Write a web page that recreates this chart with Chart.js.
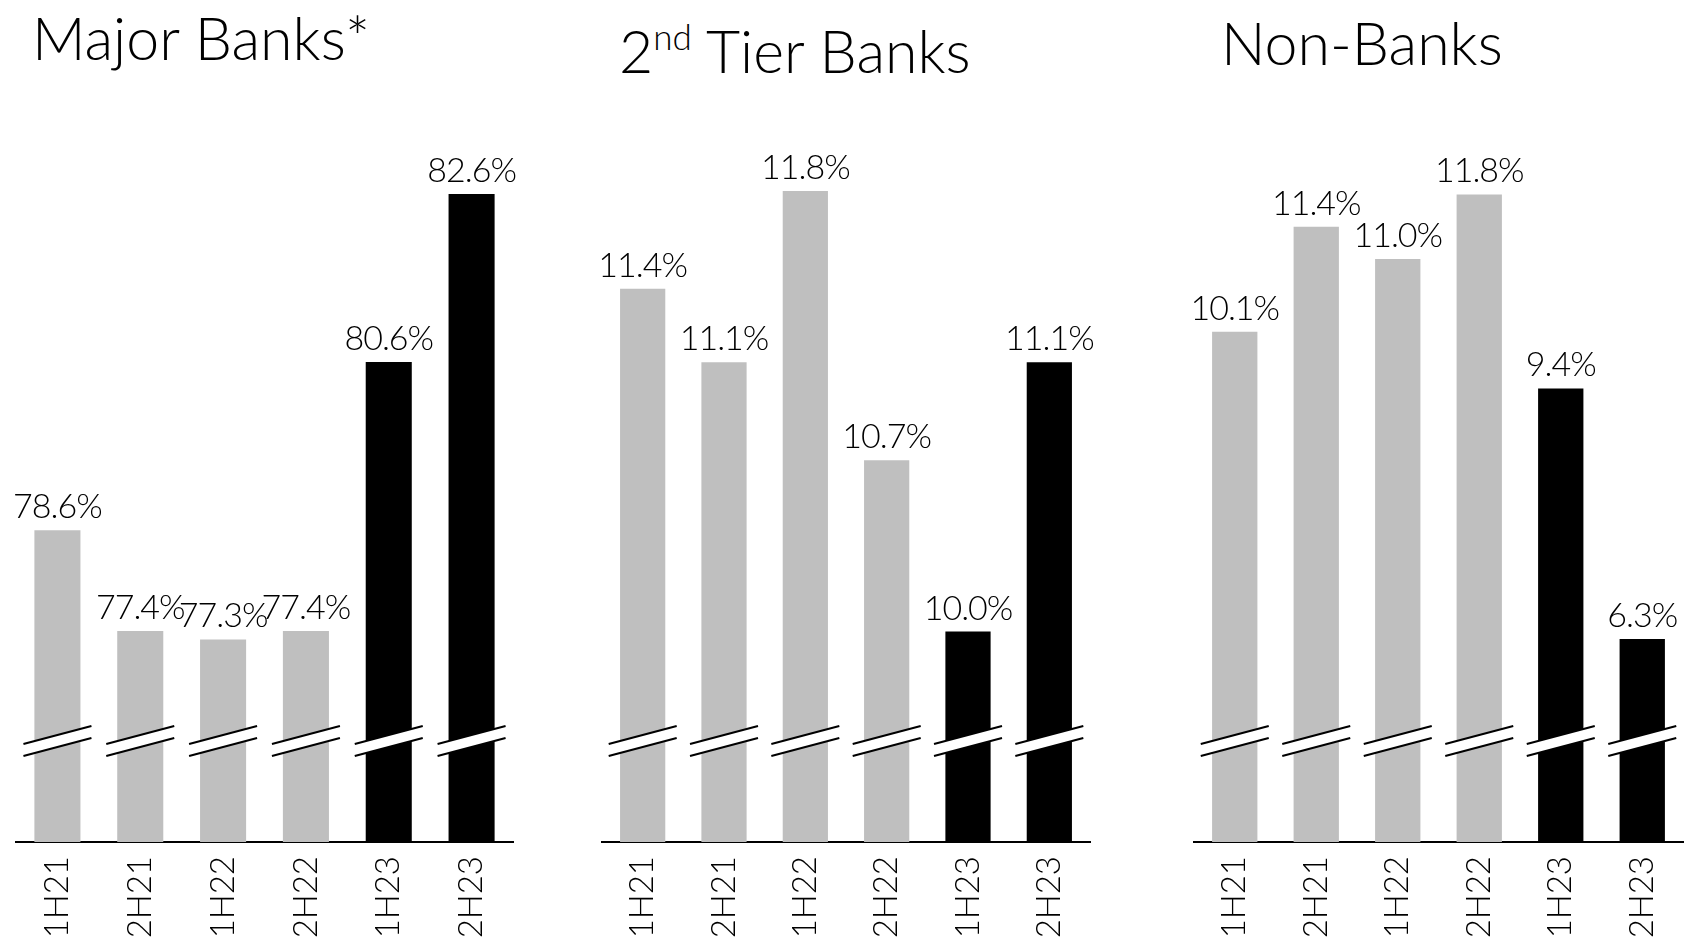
<!DOCTYPE html>
<html>
<head>
<meta charset="utf-8">
<script src="https://cdn.jsdelivr.net/npm/chart.js@4.4.1/dist/chart.umd.min.js"></script>
<style>
  html,body{margin:0;padding:0;background:#fff;overflow:hidden;}
  body{width:1687px;height:943px;position:relative;font-family:'Lato','Open Sans',sans-serif;font-weight:300;color:#000;}
  .ttl{position:absolute;font-size:59px;line-height:59px;white-space:nowrap;font-weight:300;}
  .ttl sup{font-size:35px;line-height:0;vertical-align:0;position:relative;top:-23px;}
  canvas{position:absolute;top:0;}
</style>
</head>
<body>
<div class="ttl" id="t-major" style="left:32px;top:8px;">Major Banks*</div>
<div class="ttl" id="t-tier" style="left:619px;top:21px;">2<sup>nd</sup> Tier Banks</div>
<div class="ttl" id="t-non" style="left:1221px;top:13px;">Non-Banks</div>

<canvas id="c-major" width="553" height="943" style="left:0px"></canvas>
<canvas id="c-tier" width="568" height="943" style="left:562px"></canvas>
<canvas id="c-non" width="573" height="943" style="left:1154px"></canvas>

<script>
/* ---------- Data ---------- */
const PERIODS     = ['1H21','2H21','1H22','2H22','1H23','2H23'];
const MAJOR_BANKS = [78.6, 77.4, 77.3, 77.4, 80.6, 82.6];
const TIER2_BANKS = [11.4, 11.1, 11.8, 10.7, 10.0, 11.1];
const NON_BANKS   = [10.1, 11.4, 11.0, 11.8, 9.4, 6.3];

// broken axis ranges (bars start from the break, not from zero)
const MAJOR_RANGE = [74.89, 83.48];
const TIER2_RANGE = [9.14, 12.09];
const NON_RANGE   = [3.79, 12.72];

/* ---------- Style ---------- */
const GREY  = '#bfbfbf';
const BLACK = '#000000';
const BAR_COLORS = [GREY, GREY, GREY, GREY, BLACK, BLACK];
const FONT = "'Lato','Open Sans',sans-serif";

function byId(id){ return document.getElementById(id); }

/* value labels on top of each bar */
const valueLabels = {
  id:'valueLabels',
  afterDatasetsDraw(chart){
    const ctx = chart.ctx;
    const ds = chart.data.datasets[0];
    const meta = chart.getDatasetMeta(0);
    ctx.save();
    ctx.font = '300 34px ' + FONT;
    ctx.fillStyle = '#000';
    ctx.textAlign = 'center';
    ctx.textBaseline = 'alphabetic';
    if ('letterSpacing' in ctx) ctx.letterSpacing = '-1px';
    meta.data.forEach((bar, i)=>{
      ctx.fillText(ds.data[i].toFixed(1) + '%', bar.x, bar.y - 12);
    });
    ctx.restore();
  }
};

/* axis-break marks across every bar */
const breakMarks = {
  id:'breakMarks',
  afterDatasetsDraw(chart){
    const ctx = chart.ctx;
    const bottom = chart.chartArea.bottom;
    const meta = chart.getDatasetMeta(0);
    const half = 34, rise = 9;
    const yA = bottom - 107, yB = bottom - 95;
    ctx.save();
    meta.data.forEach(bar=>{
      const x = bar.x;
      ctx.fillStyle = '#fff';
      ctx.beginPath();
      ctx.moveTo(x - half, yA + rise);
      ctx.lineTo(x + half, yA - rise);
      ctx.lineTo(x + half, yB - rise);
      ctx.lineTo(x - half, yB + rise);
      ctx.closePath();
      ctx.fill();
      ctx.strokeStyle = '#000';
      ctx.lineWidth = 2;
      [yA, yB].forEach(y=>{
        ctx.beginPath();
        ctx.moveTo(x - half, y + rise);
        ctx.lineTo(x + half, y - rise);
        ctx.stroke();
      });
    });
    ctx.restore();
  }
};

function makePanel(id, values, range, padL, padR){
  return new Chart(byId(id), {
    type:'bar',
    data:{
      labels: PERIODS,
      datasets:[{
        data: values,
        backgroundColor: BAR_COLORS,
        borderWidth: 0,
        categoryPercentage: 1,
        barPercentage: 0.556
      }]
    },
    options:{
      responsive:false,
      animation:false,
      layout:{ padding:{ top:120, left:padL, right:padR, bottom:0 } },
      plugins:{ legend:{display:false}, tooltip:{enabled:false}, title:{display:false} },
      scales:{
        x:{
          grid:{ display:false, drawTicks:false },
          border:{ display:true, color:'#000', width:2 },
          ticks:{
            color:'#000',
            font:{ family:FONT, size:33, weight:'300' },
            minRotation:90, maxRotation:90, autoSkip:false, padding:14
          },
          afterFit(scale){ scale.height = 101; }
        },
        y:{
          display:false,
          min: range[0],
          max: range[1]
        }
      }
    },
    plugins:[breakMarks, valueLabels]
  });
}

/* ---------- Init ---------- */
makePanel('c-major', MAJOR_BANKS, MAJOR_RANGE, 16, 40);
makePanel('c-tier',  TIER2_BANKS, TIER2_RANGE, 40, 40);
makePanel('c-non',   NON_BANKS,   NON_RANGE,   40, 44);
</script>
</body>
</html>
